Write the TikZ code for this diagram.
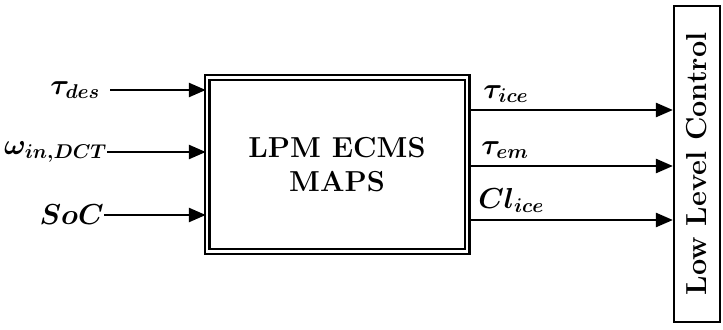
\RequirePackage{fix-cm}
\documentclass[tikz,border=0pt]{standalone}
\usepackage{amsmath, amssymb, bm}
\usepackage{tikz}
\usetikzlibrary{arrows.meta, positioning, calc}
\DeclareMathSizes{29}{29}{20}{15}

\begin{document}
\begin{tikzpicture}[
    x=1bp, y=1bp,
    mapbox/.style={draw, line width=2.4bp, double, double distance=2.2bp, minimum width=260bp, minimum height=174bp, align=center, font=\fontsize{29}{34}\selectfont\bfseries},
    ctrlbox/.style={draw, line width=2.2bp, minimum width=46bp, minimum height=316bp},
    sig/.style={line width=2.5bp, -{Triangle[length=17bp, width=14bp]}},
    lbl/.style={inner sep=0pt, font=\fontsize{29}{34}\selectfont}
]
  \useasboundingbox (0,0) rectangle (723,329);

  % Blocks
  \node[mapbox] (map) at (337, 164.5) {LPM ECMS\\MAPS};
  \node[ctrlbox] (llc) at (697, 165) {};
  \node[rotate=90, font=\fontsize{29}{34}\selectfont\bfseries] (llctext) at (llc.center) {Low Level Control};

  % Inputs
  \node[lbl, anchor=east] (tdes) at (100, 239) {$\bm{\tau_{des}}$};
  \node[lbl, anchor=west] (win) at (4, 177) {$\bm{\omega_{in,DCT}}$};
  \node[lbl, anchor=east] (soc) at (104, 114) {$\bm{SoC}$};

  \draw[sig] ([xshift=10bp]tdes.east) -- (map.west |- tdes.east);
  \draw[sig] (win.east) -- (map.west |- win.east);
  \draw[sig] (soc.east) -- (map.west |- soc.east);

  % Outputs
  \coordinate (o1) at (map.east |- 0, 219);
  \coordinate (o2) at (map.east |- 0, 163);
  \coordinate (o3) at (map.east |- 0, 109);

  \draw[sig] (o1) -- (llc.west |- o1);
  \draw[sig] (o2) -- (llc.west |- o2);
  \draw[sig] (o3) -- (llc.west |- o3);

  \node[lbl, anchor=base west] (tice) at ([xshift=15bp, yshift=12bp]o1) {$\bm{\tau_{ice}}$};
  \node[lbl, anchor=base west] (tem) at ([xshift=13bp, yshift=12bp]o2) {$\bm{\tau_{em}}$};
  \node[lbl, anchor=base west] (clice) at ([xshift=10bp, yshift=12bp]o3) {$\bm{Cl_{ice}}$};
\end{tikzpicture}
\end{document}
